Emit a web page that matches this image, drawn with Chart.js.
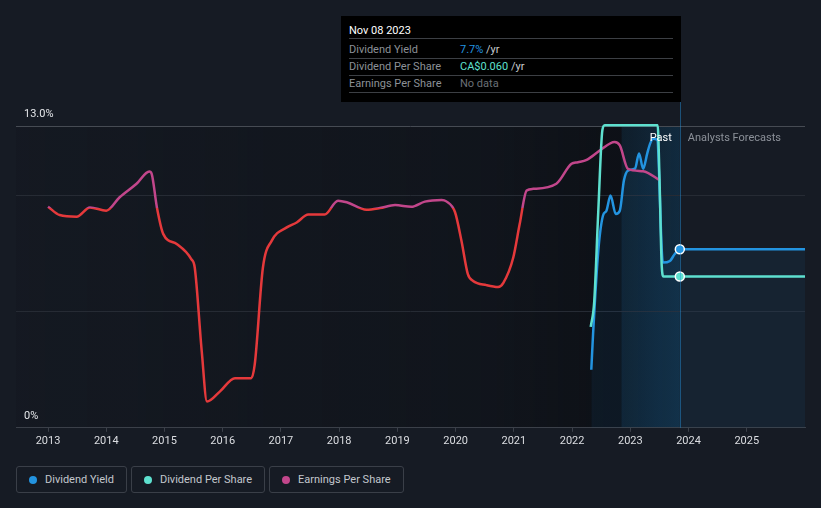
<!DOCTYPE html>
<html>
<head>
<meta charset="utf-8">
<script src="https://cdn.jsdelivr.net/npm/chart.js@4.4.0/dist/chart.umd.min.js"></script>
<style>
  body { margin: 0; background: #161b24; font-family: Roboto, sans-serif; }
  #wrap { position: relative; width: 821px; height: 508px; overflow: hidden; }
  #chart { position: absolute; left: 0; top: 0; }
  #tip {
    position: absolute; left: 341px; top: 16px; width: 324px;
    padding: 8px 8px 9px 8px; background: #000; font-size: 11px;
  }
  #tip .title { color: #fff; line-height: 14px; height: 14px; margin-bottom: 3px; border-bottom: 1px solid #3c3f44; padding-bottom: 0; }
  #tip .row { display: flex; height: 16px; line-height: 16px; border-bottom: 1px solid #3c3f44; }
  #tip .row .lbl { width: 111px; color: #8c9197; }
  #tip .row .unit { color: #c9ccd0; }
  #legend { position: absolute; left: 16px; top: 466px; display: flex; gap: 4px; }
  .item {
    display: flex; align-items: center; gap: 8px; height: 25px; padding: 0 12px;
    border: 1px solid #3a3f48; border-radius: 3px; color: #c3c7cd; font-size: 11px;
  }
  .dot { width: 8px; height: 8px; border-radius: 50%; }
</style>
</head>
<body>
<div id="wrap">
  <canvas id="chart" width="821" height="458"></canvas>
  <div id="tip"></div>
  <div id="legend"></div>
</div>
<script>
// x values are decimal years
const yearTicks = [2013, 2014, 2015, 2016, 2017, 2018, 2019, 2020, 2021, 2022, 2023, 2024, 2025];
const yieldTicks = [0, 5, 10, 13];

// Dividend Yield (%)
const yieldYears = [2022.33, 2022.36, 2022.45, 2022.53, 2022.59, 2022.66, 2022.75, 2022.82, 2022.89, 2022.96,
  2023.08, 2023.15, 2023.22, 2023.29, 2023.34, 2023.39, 2023.46, 2023.56, 2023.68, 2023.76, 2023.85, 2026.00];
const yieldValues = [2.50, 4.02, 7.63, 9.14, 9.36, 10.01, 9.22, 9.36, 10.66, 11.09,
  11.17, 11.82, 11.17, 11.82, 12.25, 12.46, 12.42, 7.12, 7.19, 7.48, 7.70, 7.70];

// Dividend Per Share (CA$)
const dpsYears = [2022.32, 2022.38, 2022.45, 2022.52, 2022.56, 2023.47, 2023.50, 2023.54, 2023.57, 2023.85, 2026.00];
const dpsValues = [0.040, 0.050, 0.086, 0.118, 0.120, 0.120, 0.100, 0.064, 0.060, 0.060, 0.060];

// Earnings Per Share (no scale shown, relative units)
const epsYears = [2013.00, 2013.20, 2013.49, 2013.72, 2014.00, 2014.23, 2014.52, 2014.74, 2014.78, 2014.87,
  2014.98, 2015.21, 2015.46, 2015.52, 2015.64, 2015.73, 2015.95, 2016.21, 2016.49, 2016.55,
  2016.69, 2016.84, 2017.10, 2017.27, 2017.47, 2017.75, 2017.98, 2018.13, 2018.47, 2018.70,
  2018.96, 2019.24, 2019.47, 2019.76, 2019.84, 2019.99, 2020.10, 2020.21, 2020.30, 2020.53,
  2020.73, 2020.82, 2020.99, 2021.10, 2021.22, 2021.33, 2021.73, 2021.99, 2022.10, 2022.25,
  2022.48, 2022.73, 2022.82, 2022.96, 2023.22, 2023.51];
const epsValues = [9.53, 9.17, 9.10, 9.50, 9.36, 9.94, 10.52, 11.05, 10.95, 9.50,
  8.35, 7.92, 7.27, 6.90, 3.29, 1.13, 1.56, 2.14, 2.14, 2.73,
  6.90, 8.06, 8.64, 8.85, 9.19, 9.19, 9.79, 9.72, 9.40, 9.47,
  9.60, 9.53, 9.75, 9.82, 9.76, 9.29, 8.06, 6.62, 6.33, 6.15,
  6.07, 6.25, 7.34, 8.78, 10.23, 10.30, 10.52, 11.38, 11.45, 11.55,
  11.96, 12.32, 12.17, 11.16, 11.06, 10.66];
const epsThreshold = 9.47; // line turns red below this

const markerYear = 2023.85;
const tipDate = 'Nov 08 2023';

const BLUE = '#2394e0', TEAL = '#5ee0cf', PINK = '#c2468b', RED = '#e5393b';

const toPoints = (xs, ys) => xs.map((x, i) => ({ x: x, y: ys[i] }));
const markerRadius = c => (c.raw && c.raw.x === markerYear ? 4.5 : 0);

const epsColor = c => {
  const chart = c.chart;
  const ca = chart.chartArea;
  if (!ca) return RED;
  const yPix = chart.scales.yEps.getPixelForValue(epsThreshold);
  const t = Math.min(1, Math.max(0, (yPix - ca.top) / (ca.bottom - ca.top)));
  const g = chart.ctx.createLinearGradient(0, ca.top, 0, ca.bottom);
  g.addColorStop(0, PINK);
  g.addColorStop(t, PINK);
  g.addColorStop(t, RED);
  g.addColorStop(1, RED);
  return g;
};

// shaded regions behind grid and lines
const backdrop = {
  id: 'backdrop',
  beforeDraw(chart) {
    const { ctx, chartArea } = chart;
    const x = chart.scales.x, y = chart.scales.y;
    const left = chartArea.left;
    const xm = x.getPixelForValue(markerYear);
    const top = y.getPixelForValue(13), bottom = y.getPixelForValue(0);
    ctx.save();
    let g = ctx.createLinearGradient(left, 0, xm, 0);
    g.addColorStop(0, 'rgba(5,7,10,0.08)');
    g.addColorStop(0.72, 'rgba(5,7,10,0.30)');
    g.addColorStop(0.9, 'rgba(5,7,10,0.50)');
    g.addColorStop(1, 'rgba(5,7,10,0.50)');
    ctx.fillStyle = g;
    ctx.fillRect(left, top, xm - left, bottom - top);
    const xb = x.getPixelForValue(markerYear - 1);
    g = ctx.createLinearGradient(xb, 0, xm, 0);
    g.addColorStop(0, 'rgba(35,148,224,0.10)');
    g.addColorStop(1, 'rgba(35,148,224,0.20)');
    ctx.fillStyle = g;
    ctx.fillRect(xb, top, xm - xb, bottom - top);
    ctx.restore();
  },
  afterDatasetsDraw(chart) {
    const { ctx, chartArea } = chart;
    const xm = chart.scales.x.getPixelForValue(markerYear);
    const ty = chart.scales.y.getPixelForValue(13) + 12;
    ctx.save();
    ctx.strokeStyle = 'rgba(35,148,224,0.45)';
    ctx.lineWidth = 1;
    ctx.beginPath();
    ctx.moveTo(Math.round(xm) + 0.5, chartArea.top);
    ctx.lineTo(Math.round(xm) + 0.5, chartArea.bottom);
    ctx.stroke();
    ctx.font = '11px Roboto';
    ctx.textBaseline = 'middle';
    ctx.textAlign = 'right';
    ctx.fillStyle = '#ffffff';
    ctx.fillText('Past', xm - 8, ty);
    ctx.textAlign = 'left';
    ctx.fillStyle = '#8c9199';
    ctx.fillText('Analysts Forecasts', xm + 8, ty);
    ctx.restore();
  }
};

const chart = new Chart(document.getElementById('chart'), {
  type: 'line',
  data: {
    datasets: [
      {
        label: 'Dividend Per Share',
        data: toPoints(dpsYears, dpsValues),
        yAxisID: 'yDps',
        borderColor: TEAL,
        borderWidth: 2.5,
        cubicInterpolationMode: 'monotone',
        pointRadius: markerRadius,
        pointBackgroundColor: TEAL,
        pointBorderColor: '#fff',
        pointBorderWidth: 1.5,
        fill: false
      },
      {
        label: 'Earnings Per Share',
        data: toPoints(epsYears, epsValues),
        yAxisID: 'yEps',
        borderColor: epsColor,
        borderWidth: 2.5,
        cubicInterpolationMode: 'monotone',
        pointRadius: 0,
        fill: false
      },
      {
        label: 'Dividend Yield',
        data: toPoints(yieldYears, yieldValues),
        yAxisID: 'y',
        borderColor: BLUE,
        borderWidth: 2.5,
        cubicInterpolationMode: 'monotone',
        pointRadius: markerRadius,
        pointBackgroundColor: BLUE,
        pointBorderColor: '#fff',
        pointBorderWidth: 1.5,
        fill: 'origin',
        backgroundColor: 'rgba(35,148,224,0.07)'
      }
    ]
  },
  options: {
    responsive: false,
    animation: false,
    devicePixelRatio: 1,
    layout: { padding: { left: 0, right: 16, top: 100, bottom: 7 } },
    plugins: { legend: { display: false }, tooltip: { enabled: false } },
    scales: {
      x: {
        type: 'linear',
        min: 2012.45,
        max: 2026.0,
        afterBuildTicks: axis => { axis.ticks = yearTicks.map(v => ({ value: v })); },
        ticks: {
          autoSkip: false,
          maxRotation: 0,
          padding: 3,
          color: '#dcdee2',
          font: { family: 'Roboto', size: 11 },
          callback: v => String(v)
        },
        grid: { display: true, drawOnChartArea: false, drawTicks: true, tickLength: 4, color: '#3b4049' },
        border: { display: true, color: '#3b4049' }
      },
      y: {
        position: 'left',
        min: 0,
        max: 14.13,
        afterBuildTicks: axis => { axis.ticks = yieldTicks.map(v => ({ value: v })); },
        ticks: {
          mirror: true,
          padding: 8,
          labelOffset: -12,
          color: '#e4e6e9',
          font: { family: 'Roboto', size: 11 },
          callback: v => (v === 0 ? '0%' : v === 13 ? '13.0%' : '')
        },
        grid: {
          drawTicks: false,
          color: c => (c.tick.value === 13 ? '#464b53' : c.tick.value === 0 ? 'rgba(0,0,0,0)' : '#262b34')
        },
        border: { display: false }
      },
      yDps: { display: false, min: 0, max: 0.13 },
      yEps: { display: false, min: 0, max: 14.13 }
    }
  },
  plugins: [backdrop]
});

// tooltip box
const iy = yieldYears.indexOf(markerYear), id = dpsYears.indexOf(markerYear);
document.getElementById('tip').innerHTML =
  '<div class="title">' + tipDate + '</div>' +
  '<div class="row"><span class="lbl">Dividend Yield</span><span style="color:' + BLUE + '">' +
  yieldValues[iy].toFixed(1) + '%</span><span class="unit">&nbsp;/yr</span></div>' +
  '<div class="row"><span class="lbl">Dividend Per Share</span><span style="color:' + TEAL + '">CA$' +
  dpsValues[id].toFixed(3) + '</span><span class="unit">&nbsp;/yr</span></div>' +
  '<div class="row"><span class="lbl">Earnings Per Share</span><span style="color:#6b7077">No data</span></div>';

// legend
const legendItems = [['Dividend Yield', BLUE], ['Dividend Per Share', TEAL], ['Earnings Per Share', PINK]];
document.getElementById('legend').innerHTML = legendItems.map(([name, col]) =>
  '<div class="item"><span class="dot" style="background:' + col + '"></span>' + name + '</div>').join('');
</script>
</body>
</html>
